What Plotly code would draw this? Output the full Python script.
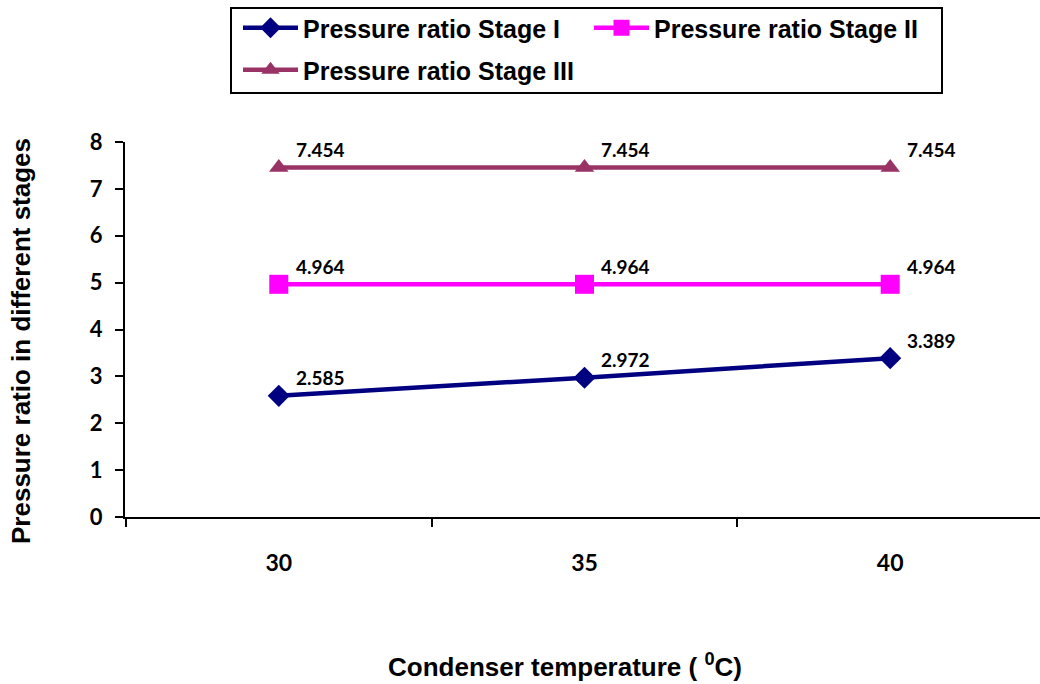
import plotly.graph_objects as go

# Condenser temperature categories (°C)
temps = ["30", "35", "40"]

# Pressure ratio per compression stage
stage1 = [2.585, 2.972, 3.389]
stage2 = [4.964, 4.964, 4.964]
stage3 = [7.454, 7.454, 7.454]

series = [
    ("Pressure ratio Stage I", stage1, "#000080", "diamond", 17, "legend"),
    ("Pressure ratio Stage II", stage2, "#FF00FF", "square", 19, "legend2"),
    ("Pressure ratio Stage III", stage3, "#993366", "triangle-up", 17, "legend3"),
]

W, H = 1040, 684
L, R, T, B = 125, 0, 142, 167
pw, ph = W - L - R, H - T - B


def px_x(p):
    return (p - L) / pw


def px_y(p):
    return (H - B - p) / ph


fig = go.Figure()
annotations = []
for name, vals, color, sym, size, leg in series:
    fig.add_trace(go.Scatter(
        x=temps, y=vals, name=name, mode="lines+markers",
        line=dict(color=color, width=4.5),
        marker=dict(symbol=sym, size=size, color=color),
        legend=leg, cliponaxis=False,
    ))
    # value labels sit above and to the right of each point
    for i, v in enumerate(vals):
        annotations.append(dict(
            x=i, y=v, xref="x", yref="y", text=f"{v:.3f}", showarrow=False,
            xanchor="left", yanchor="middle", xshift=15, yshift=18,
            font=dict(family="Lato", size=19, color="black", weight="bold"),
        ))

legend_font = dict(family="Liberation Sans, Arial", size=25, color="black", weight="bold")
legend_pos = {"legend": (238, 28), "legend2": (589, 28), "legend3": (238, 70)}
legends = {}
for key, (lx, ly) in legend_pos.items():
    legends[key] = dict(
        x=lx / W, y=1 - ly / H, xref="container", yref="container",
        xanchor="left", yanchor="middle", orientation="h", itemwidth=55,
        bgcolor="rgba(0,0,0,0)", borderwidth=0, font=legend_font,
    )

title_font = dict(family="Liberation Sans, Arial", size=26, color="black", weight="bold")
annotations.append(dict(
    text="Pressure ratio in different stages", xref="paper", yref="paper",
    x=px_x(21), y=px_y(341), textangle=-90, showarrow=False,
    xanchor="center", yanchor="middle", font=title_font,
))
annotations.append(dict(
    text="Condenser temperature ( <sup>0</sup>C)", xref="paper", yref="paper",
    x=px_x(565), y=px_y(665), showarrow=False,
    xanchor="center", yanchor="middle", font=title_font,
))

fig.update_layout(
    width=W, height=H,
    margin=dict(l=L, r=R, t=T, b=B, pad=0),
    paper_bgcolor="white", plot_bgcolor="white",
    showlegend=True,
    annotations=annotations,
    shapes=[dict(
        type="rect", xref="paper", yref="paper",
        x0=px_x(231), x1=px_x(942), y0=px_y(93), y1=px_y(8),
        line=dict(color="black", width=2), fillcolor="rgba(0,0,0,0)",
    )],
    **legends,
)

fig.update_xaxes(
    type="category", range=[-0.503, 2.49], tickson="boundaries",
    showline=True, linecolor="black", linewidth=2,
    ticks="outside", ticklen=8, tickwidth=2, tickcolor="black",
    showgrid=False, zeroline=False, ticklabelstandoff=24,
    tickfont=dict(family="Lato", size=23, color="black", weight="bold"),
)
fig.update_yaxes(
    range=[0, 8], dtick=1, tick0=0,
    showline=True, linecolor="black", linewidth=2,
    ticks="outside", ticklen=8, tickwidth=2, tickcolor="black",
    showgrid=False, zeroline=False, ticklabelstandoff=8,
    tickfont=dict(family="Lato", size=22, color="black", weight="bold"),
)

fig.write_html("out.html")
